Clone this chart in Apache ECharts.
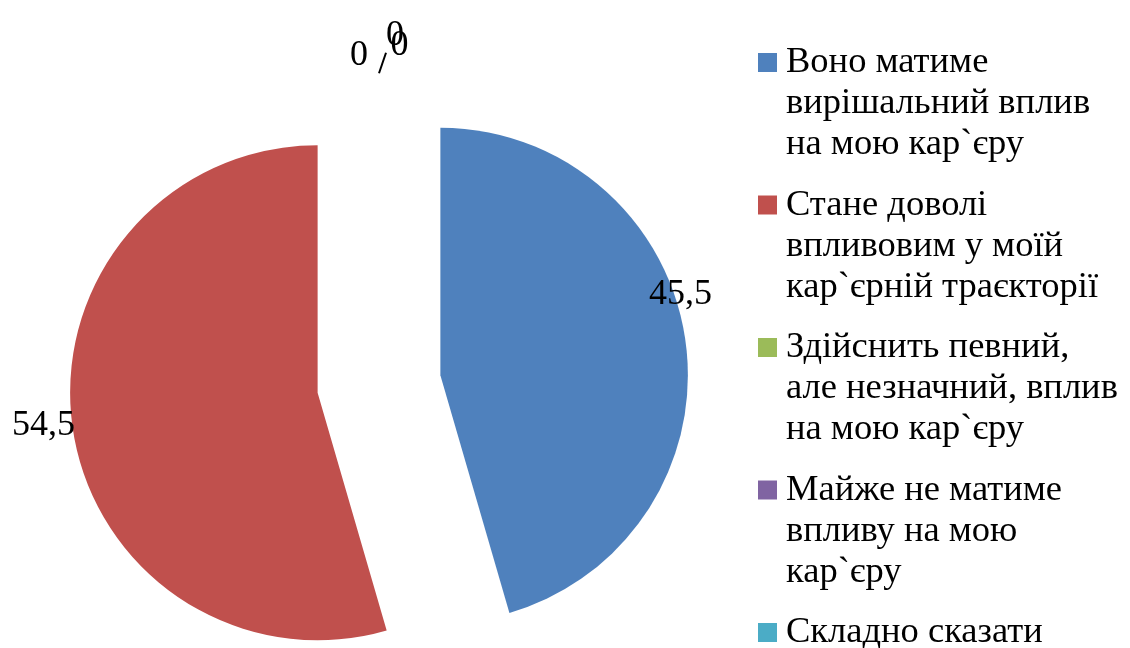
<!DOCTYPE html>
<html><head><meta charset="utf-8">
<script src="https://cdn.jsdelivr.net/npm/echarts@6/dist/echarts.min.js"></script>
<style>html,body{margin:0;padding:0;background:#fff}#c{width:1130px;height:648px}</style>
</head><body><div id="c"></div>
<script>
const categories = [
  'Воно матиме\nвирішальний вплив\nна мою кар`єру',
  'Стане доволі\nвпливовим у моїй\nкар`єрній траєкторії',
  'Здійснить певний,\nале незначний, вплив\nна мою кар`єру',
  'Майже не матиме\nвпливу на мою\nкар`єру',
  'Складно сказати'
];
const values = [45.5, 54.5, 0, 0, 0];
const colors = ['#4F81BD', '#C0504D', '#9BBB59', '#8064A2', '#4BACC6'];
// label nudges (style only)
const labelShift = [[-86, -40], [52, -8], [-1, -40.5], [35, -60.5], [39.5, -51.3]];

const chart = echarts.init(document.getElementById('c'), null, {renderer: 'canvas'});
const data = categories.map((name, i) => ({
  name: name,
  value: values[i],
  selected: values[i] > 0,
  itemStyle: {color: colors[i]},
  labelLine: {show: i === 4}
}));
chart.setOption({
  animation: false,
  backgroundColor: '#fff',
  legend: {
    orient: 'vertical',
    left: 758,
    top: 42,
    height: 1000,
    padding: 0,
    itemGap: 19.5,
    itemWidth: 23,
    itemHeight: 102,
    icon: 'path://M0,0M23,102M0,0.5L19,0.5L19,19.5L0,19.5Z',
    selectedMode: false,
    formatter: name => name + '\n'.repeat(3 - name.split('\n').length),
    textStyle: {fontFamily: 'Liberation Serif', fontSize: 36.5, color: '#000', lineHeight: 41}
  },
  series: [{
    type: 'pie',
    center: [379, 384],
    radius: 247.5,
    startAngle: 90,
    clockwise: true,
    selectedMode: 'multiple',
    selectedOffset: 62,
    avoidLabelOverlap: false,
    itemStyle: {borderWidth: 0},
    emphasis: {disabled: true},
    label: {
      show: true,
      position: 'outside',
      fontFamily: 'Liberation Serif',
      fontSize: 36,
      color: '#000',
      formatter: p => String(p.value).replace('.', ',')
    },
    labelLine: {length: 40, length2: 5, lineStyle: {color: '#000', width: 2}},
    labelLayout: p => {
      const s = labelShift[p.dataIndex];
      const out = {dx: s[0], dy: s[1]};
      if (p.dataIndex === 4) {
        const r = p.labelRect;
        const cx = r.x + r.width / 2 + s[0];
        const cy = r.y + r.height / 2 + s[1];
        out.labelLinePoints = [[cx - 20.5, cy + 28], [cx - 13.5, cy + 7.5], [cx - 13.5, cy + 7.5]];
      }
      return out;
    },
    data: data
  }]
});
</script></body></html>
